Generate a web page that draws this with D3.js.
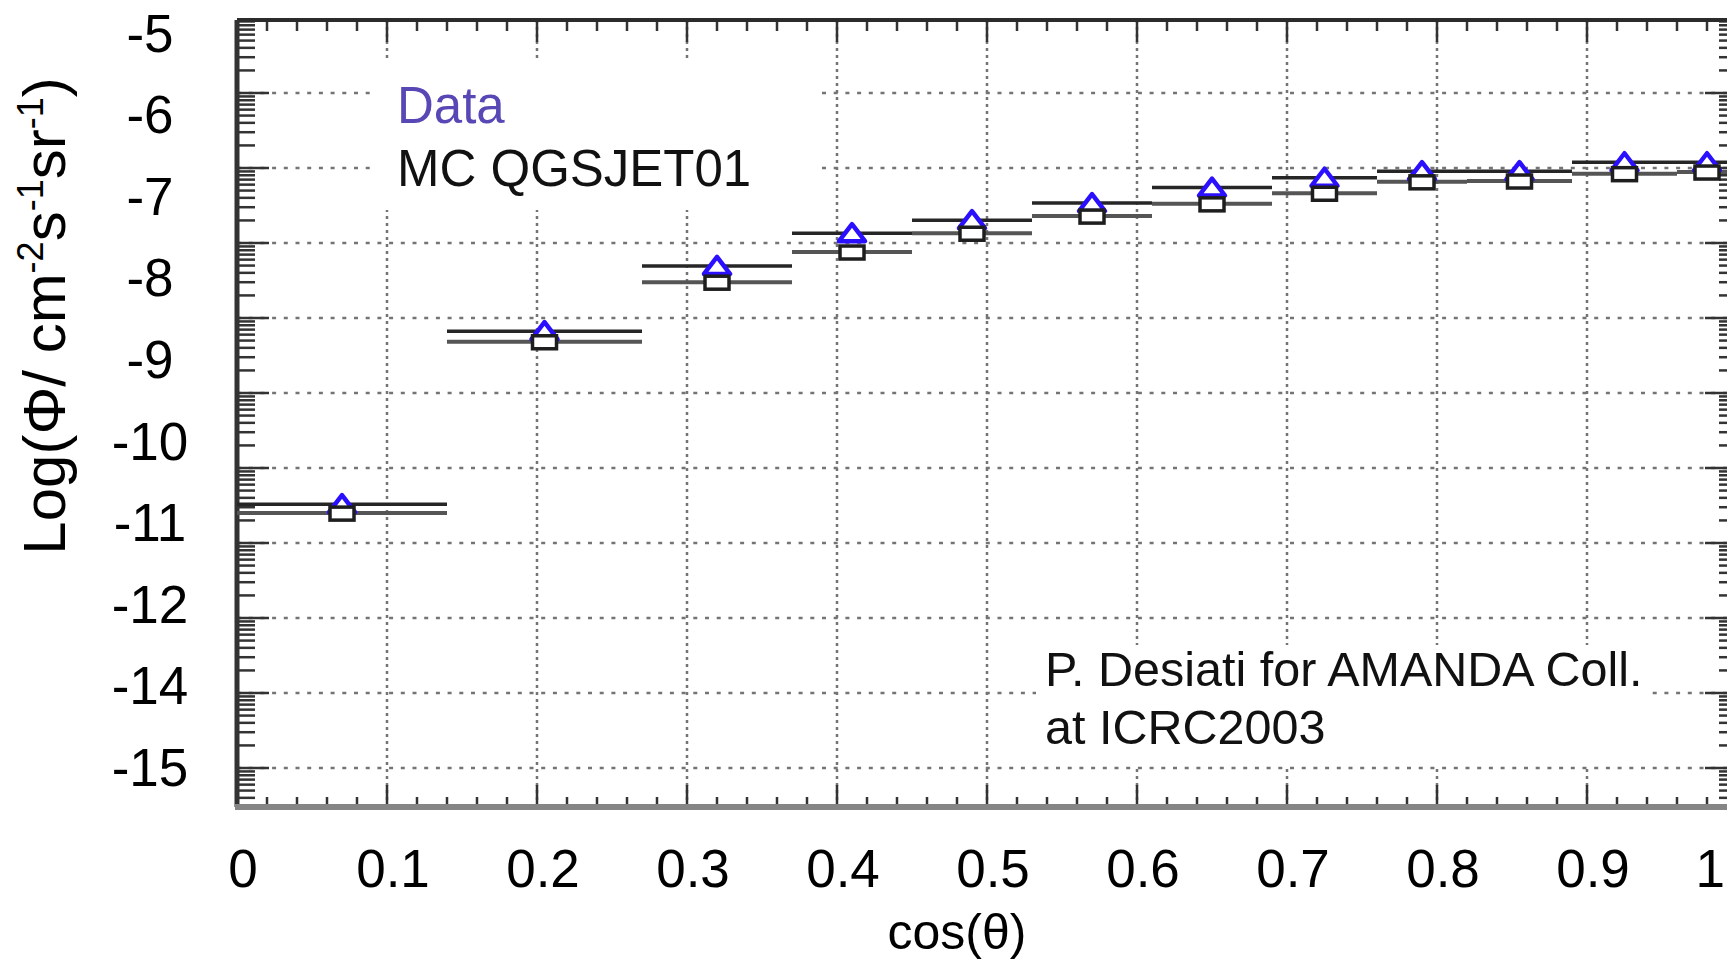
<!DOCTYPE html>
<html lang="en">
<head>
    <meta charset="UTF-8">
    <title>AMANDA muon flux vs cos(theta)</title>
    <script src="https://d3js.org/d3.v7.min.js"></script>
    <style>
        body { margin: 0; background: #fff; }
        svg { display: block; }
        text { font-family: "Liberation Sans", Arial, sans-serif; }
    </style>
</head>
<body>
    <div id="graph"></div>
    <script>
        // bins in cos(theta)
        var binLo = [0, 0.14, 0.27, 0.37, 0.45, 0.53, 0.61, 0.69, 0.76, 0.82, 0.89, 0.96]
        var binHi = [0.14, 0.27, 0.37, 0.45, 0.53, 0.61, 0.69, 0.76, 0.82, 0.89, 0.96, 1.0]
        var binCenter = [0.07, 0.205, 0.32, 0.41, 0.49, 0.57, 0.65, 0.725, 0.79, 0.855, 0.925, 0.98]

        // log10 flux values
        var dataLogFlux = [-10.78, -8.66, -7.86, -7.46, -7.30, -7.09, -6.90, -6.78, -6.70, -6.70, -6.59, -6.59]
        var mcLogFlux = [-10.89, -8.79, -8.06, -7.69, -7.46, -7.25, -7.10, -6.97, -6.83, -6.82, -6.73, -6.71]

        // tick labels as printed on the figure (note: no -13)
        var xTickValues = [0, 0.1, 0.2, 0.3, 0.4, 0.5, 0.6, 0.7, 0.8, 0.9, 1]
        var xTickLabels = ["0", "0.1", "0.2", "0.3", "0.4", "0.5", "0.6", "0.7", "0.8", "0.9", "1"]
        var yTickLabels = ["-5", "-6", "-7", "-8", "-9", "-10", "-11", "-12", "-14", "-15"]

        var legendLabels = ["Data", "MC QGSJET01"]
        var creditLines = ["P. Desiati for AMANDA Coll.", "at ICRC2003"]

        var data = binCenter.map(function (c, i) {
            return {lo: binLo[i], hi: binHi[i], c: c, dat: dataLogFlux[i], mc: mcLogFlux[i]}
        })

        var width = 1727, height = 959
        var frame = {top: 20, bottom: 807}

        var svg = d3.select("#graph").append("svg")
            .attr("width", width)
            .attr("height", height)

        var x = d3.scaleLinear().domain([0, 1]).range([237, 1737])

        // value scale matching the printed labels
        var y = d3.scaleLinear().domain([-5, -12]).range([32.5, 603.7])
        var yLabel = d3.scalePoint().domain(yTickLabels).range([32.5, 767])

        // underlying log grid of the original plot (decades every 75px)
        var grid = d3.scaleLog().domain([1e-5, Math.pow(10, -15.5)]).range([18, 805.5])
        var gridTicks = grid.ticks(60)
        function isDecade(t) {
            var l = Math.log10(t)
            return Math.abs(l - Math.round(l)) < 1e-9
        }

        // horizontal grid
        svg.append("g").selectAll("line")
            .data(gridTicks.filter(d => isDecade(d) && grid(d) > frame.top + 5 && grid(d) < frame.bottom - 5))
            .enter().append("line")
                .attr("x1", x(0)).attr("x2", x(1))
                .attr("y1", d => grid(d)).attr("y2", d => grid(d))
                .attr("stroke", "#747474")
                .attr("stroke-width", 2.5)
                .attr("stroke-dasharray", "4,7.7")

        // vertical grid
        svg.append("g").selectAll("line")
            .data(xTickValues.slice(1, -1))
            .enter().append("line")
                .attr("x1", d => x(d)).attr("x2", d => x(d))
                .attr("y1", frame.top).attr("y2", frame.bottom)
                .attr("stroke", "#747474")
                .attr("stroke-width", 2.5)
                .attr("stroke-dasharray", "3,4")

        // white boxes behind the texts
        svg.append("rect").attr("x", 370).attr("y", 60).attr("width", 452).attr("height", 150).attr("fill", "#fff")
        svg.append("rect").attr("x", 1036).attr("y", 645).attr("width", 616).attr("height", 120).attr("fill", "#fff")

        // x ticks, top and bottom
        var xMinor = d3.range(0, 51).map(i => i / 50)
        function xMajor(d) { return Math.abs(d * 10 - Math.round(d * 10)) < 1e-9 }
        svg.append("g").selectAll("line")
            .data(xMinor)
            .enter().append("line")
                .attr("x1", d => x(d)).attr("x2", d => x(d))
                .attr("y1", frame.bottom)
                .attr("y2", d => frame.bottom - (xMajor(d) ? 22 : 10))
                .attr("stroke", "#333").attr("stroke-width", 2.5)
        svg.append("g").selectAll("line")
            .data(xMinor)
            .enter().append("line")
                .attr("x1", d => x(d)).attr("x2", d => x(d))
                .attr("y1", frame.top)
                .attr("y2", d => frame.top + (xMajor(d) ? 22 : 11))
                .attr("stroke", "#333").attr("stroke-width", 2.5)

        // y ticks, left and right (log minor ticks)
        var yTickData = gridTicks.filter(d => grid(d) > frame.top && grid(d) < frame.bottom)
        svg.append("g").selectAll("line")
            .data(yTickData)
            .enter().append("line")
                .attr("x1", x(0))
                .attr("x2", d => x(0) + (isDecade(d) ? 32 : 18))
                .attr("y1", d => grid(d)).attr("y2", d => grid(d))
                .attr("stroke", "#333").attr("stroke-width", 2.5)
        svg.append("g").selectAll("line")
            .data(yTickData)
            .enter().append("line")
                .attr("x1", x(1))
                .attr("x2", d => x(1) - (isDecade(d) ? 32 : 18))
                .attr("y1", d => grid(d)).attr("y2", d => grid(d))
                .attr("stroke", "#333").attr("stroke-width", 2.5)

        // frame
        svg.append("line").attr("x1", x(0)).attr("x2", x(1)).attr("y1", frame.top).attr("y2", frame.top)
            .attr("stroke", "#2b2b2b").attr("stroke-width", 4)
        svg.append("line").attr("x1", x(0)).attr("x2", x(0)).attr("y1", frame.top).attr("y2", frame.bottom)
            .attr("stroke", "#333").attr("stroke-width", 5)
        svg.append("line").attr("x1", x(0) - 2).attr("x2", x(1)).attr("y1", frame.bottom).attr("y2", frame.bottom)
            .attr("stroke", "#858585").attr("stroke-width", 6)

        // bin bars
        var bars = svg.append("g")
        bars.selectAll("line.mc").data(data).enter().append("line")
            .attr("class", "mc")
            .attr("x1", d => x(d.lo)).attr("x2", d => x(d.hi))
            .attr("y1", d => y(d.mc)).attr("y2", d => y(d.mc))
            .attr("stroke", "#555").attr("stroke-width", 4)
        bars.selectAll("line.dat").data(data).enter().append("line")
            .attr("class", "dat")
            .attr("x1", d => x(d.lo)).attr("x2", d => x(d.hi))
            .attr("y1", d => y(d.dat)).attr("y2", d => y(d.dat))
            .attr("stroke", "#262626").attr("stroke-width", 3.5)

        // markers
        svg.append("g").selectAll("path")
            .data(data).enter().append("path")
                .attr("d", d => "M" + (x(d.c) - 13) + "," + (y(d.dat) + 8) + "L" + x(d.c) + "," + (y(d.dat) - 9) + "L" + (x(d.c) + 13) + "," + (y(d.dat) + 8) + "Z")
                .attr("fill", "#fff")
                .attr("stroke", "#2a10ff")
                .attr("stroke-width", 4.5)
                .attr("stroke-linejoin", "round")
        svg.append("g").selectAll("rect")
            .data(data).enter().append("rect")
                .attr("x", d => x(d.c) - 12)
                .attr("y", d => y(d.mc) - 6)
                .attr("width", 24)
                .attr("height", 13)
                .attr("fill", "#fff")
                .attr("stroke", "#1e1e1e")
                .attr("stroke-width", 3.5)

        // tick labels (the last one sits at the cropped right edge)
        svg.append("g").selectAll("text")
            .data(xTickValues).enter().append("text")
                .attr("x", d => d < 1 ? x(d) + 6 : width - 2)
                .attr("y", 887)
                .attr("text-anchor", d => d < 1 ? "middle" : "end")
                .style("font-size", "53px")
                .text((d, i) => xTickLabels[i])
        svg.append("g").selectAll("text")
            .data(yTickLabels).enter().append("text")
                .attr("x", 150)
                .attr("y", d => yLabel(d) + 19)
                .attr("text-anchor", "middle")
                .style("font-size", "53px")
                .text(d => d)

        // axis titles
        svg.append("text")
            .attr("x", 957).attr("y", 949)
            .attr("text-anchor", "middle")
            .style("font-size", "50px")
            .text("cos(θ)")

        var ytitle = svg.append("text")
            .attr("transform", "translate(65,316) rotate(-90)")
            .attr("text-anchor", "middle")
            .style("font-size", "60px")
        ytitle.append("tspan").text("Log(Φ/ cm")
        ytitle.append("tspan").attr("dy", -22).style("font-size", "36px").text("-2")
        ytitle.append("tspan").attr("dy", 22).text("s")
        ytitle.append("tspan").attr("dy", -22).style("font-size", "36px").text("-1")
        ytitle.append("tspan").attr("dy", 22).text("sr")
        ytitle.append("tspan").attr("dy", -22).style("font-size", "36px").text("-1")
        ytitle.append("tspan").attr("dy", 22).text(")")

        // legend
        svg.append("g").selectAll("text")
            .data(legendLabels).enter().append("text")
                .attr("x", 397)
                .attr("y", (d, i) => 123 + i * 63)
                .style("font-size", "51px")
                .attr("fill", (d, i) => i === 0 ? "#5848b5" : "#111")
                .text(d => d)

        // credit
        svg.append("g").selectAll("text")
            .data(creditLines).enter().append("text")
                .attr("x", 1045)
                .attr("y", (d, i) => 686 + i * 58)
                .style("font-size", "48.5px")
                .attr("fill", "#111")
                .text(d => d)
    </script>
</body>
</html>
